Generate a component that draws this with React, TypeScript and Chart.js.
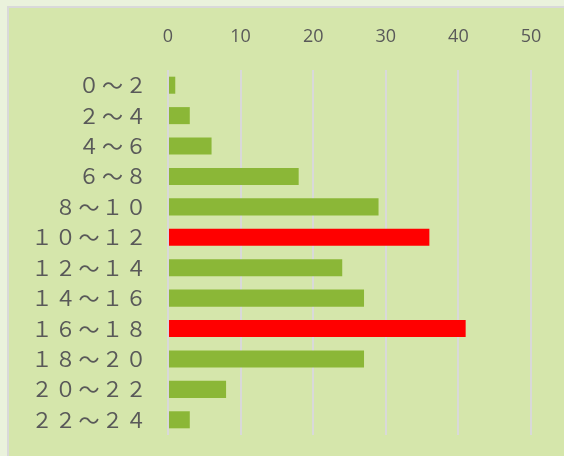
import React, { useEffect, useRef } from "react";
import { Chart, registerables } from "chart.js";

Chart.register(...registerables);

const categories = ["０～２", "２～４", "４～６", "６～８", "８～１０", "１０～１２", "１２～１４", "１４～１６", "１６～１８", "１８～２０", "２０～２２", "２２～２４"];
const values = [1, 3, 6, 18, 29, 36, 24, 27, 41, 27, 8, 3];
const highlighted = [false, false, false, false, false, true, false, false, true, false, false, false];
const xTicks = [0, 10, 20, 30, 40, 50];

const GREEN = "#8bb737";
const RED = "#ff0000";

const spacingPlugin = {
  id: "labelSpacing",
  afterUpdate(chart: any) {
    const ys = chart.scales.y;
    if (ys && !ys.__spaced) {
      const orig = ys.drawLabels.bind(ys);
      ys.drawLabels = (ca: any) => {
        const ctx = chart.ctx;
        ctx.save();
        (ctx as any).letterSpacing = "2.5px";
        orig(ca);
        ctx.restore();
      };
      ys.__spaced = true;
    }
  },
};

export default function App() {
  const ref = useRef<HTMLCanvasElement | null>(null);
  useEffect(() => {
    if (!ref.current) return;
    const chart = new Chart(ref.current, {
      type: "bar",
      data: {
        labels: categories,
        datasets: [
          {
            data: values,
            backgroundColor: highlighted.map((h) => (h ? RED : GREEN)),
            barPercentage: 0.56,
            categoryPercentage: 1,
          },
        ],
      },
      plugins: [spacingPlugin],
      options: {
        indexAxis: "y",
        animation: false,
        responsive: false,
        maintainAspectRatio: false,
        layout: { padding: { left: 0, top: 0, right: 33, bottom: 21 } },
        plugins: { legend: { display: false }, tooltip: { enabled: false } },
        scales: {
          x: {
            position: "top",
            min: 0,
            max: 50,
            afterBuildTicks: (s: any) => {
              s.ticks = xTicks.map((v) => ({ value: v }));
            },
            afterFit: (s: any) => {
              s.height = 70;
              s.paddingLeft = 0;
              s.paddingRight = 0;
            },
            grid: { color: "#d9d9d9", lineWidth: 2, drawTicks: false },
            border: { display: false },
            ticks: {
              padding: 22,
              color: "#595959",
              font: { family: "'Open Sans'", size: 18 },
            },
          },
          y: {
            afterFit: (s: any) => {
              s.width = 168;
              s.paddingTop = 0;
              s.paddingBottom = 0;
            },
            grid: { display: false },
            border: { display: false },
            ticks: {
              padding: 11,
              color: "#595959",
              font: { family: "'Noto Sans CJK JP'", size: 21 },
            },
          },
        },
      },
    });
    return () => chart.destroy();
  }, []);

  return (
    <div style={{ position: "fixed", left: 0, top: 0, width: 564, height: 456, background: "#eaf2dc", overflow: "hidden" }}>
      <div
        style={{
          position: "absolute",
          left: 7,
          top: 6,
          width: 600,
          height: 500,
          background: "#d5e6ab",
          borderLeft: "2px solid #d9d9d9",
          borderTop: "2px solid #d9d9d9",
        }}
      />
      <canvas ref={ref} width={564} height={456} style={{ position: "absolute", left: 0, top: 0 }} />
    </div>
  );
}
